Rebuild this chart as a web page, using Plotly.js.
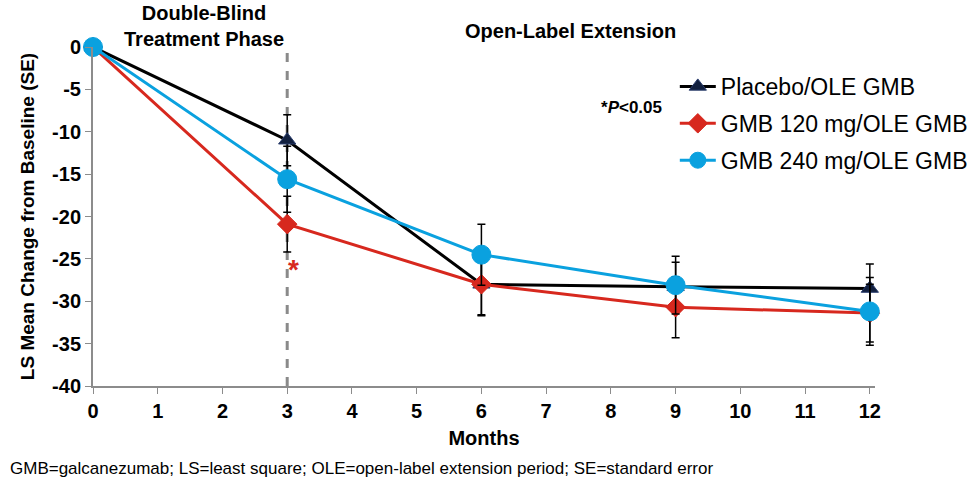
<!DOCTYPE html>
<html>
<head>
<meta charset="utf-8">
<script src="https://cdn.plot.ly/plotly-3.0.1.min.js"></script>
<style>html,body{margin:0;padding:0;background:#fff;}#chart{width:969px;height:480px;}</style>
</head>
<body>
<div id="chart"></div>
<script>
const months = [0, 3, 6, 9, 12];
const seriesNames = ["Placebo/OLE GMB", "GMB 120 mg/OLE GMB", "GMB 240 mg/OLE GMB"];
const placebo = [0, -11.0, -28.0, -28.3, -28.5];
const placeboSE = [0, 3.0, 3.6, 2.9, 2.9];
const gmb120 = [0, -20.9, -28.0, -30.7, -31.4];
const gmb120SE = [0, 3.3, 3.7, 3.6, 3.4];
const gmb240 = [0, -15.6, -24.5, -28.1, -31.2];
const gmb240SE = [0, 3.9, 3.6, 3.4, 4.0];
const xTicks = [0,1,2,3,4,5,6,7,8,9,10,11,12];
const yTicks = [0,-5,-10,-15,-20,-25,-30,-35,-40];

function trace(name, y, se, color, symbol, mline, size, group) {
  return {
    type: 'scatter', mode: 'lines+markers', name: name, x: months, y: y,
    legendgroup: group,
    line: {color: color, width: 3},
    marker: {color: symbol === 'triangle-up' ? '#12203f' : color, symbol: symbol, size: size,
             line: {color: mline, width: 1}},
    error_y: {type: 'data', array: se, visible: true, color: '#000', thickness: 1.5, width: 4},
    cliponaxis: false
  };
}
const data = [
  trace(seriesNames[0], placebo, placeboSE, '#000000', 'triangle-up', '#2a3d6e', 15, 'a'),
  trace(seriesNames[1], gmb120, gmb120SE, '#d7281e', 'diamond', '#d7281e', 15, 'b'),
  trace(seriesNames[2], gmb240, gmb240SE, '#0aa1df', 'circle', '#0aa1df', 19, 'c')
];
const bold = 'Liberation Sans, Arial, sans-serif';
const layout = {
  width: 969, height: 480,
  margin: {l: 93, r: 94, t: 47, b: 94, autoexpand: false},
  paper_bgcolor: '#fff', plot_bgcolor: '#fff',
  showlegend: true,
  legend: {x: 0.744, y: 0.947, xanchor: 'left', yanchor: 'top', font: {family: bold, size: 23, color: '#000'},
           traceorder: 'grouped', tracegroupgap: 4, itemwidth: 36, bgcolor: 'rgba(0,0,0,0)'},
  xaxis: {
    range: [0, 12.08], tickvals: xTicks, ticktext: xTicks.map(String), showgrid: false, zeroline: false,
    showline: true, linecolor: '#8c8c8c', linewidth: 2, ticks: 'outside', ticklen: 6, tickcolor: '#8c8c8c', tickwidth: 1,
    tickfont: {family: bold, size: 20, color: '#000', weight: 'bold'},
    title: {text: '<b>Months</b>', font: {family: bold, size: 20, color: '#000'}, standoff: 10}
  },
  yaxis: {
    range: [-40, 0], tickvals: yTicks, ticktext: yTicks.map(String), showgrid: false, zeroline: false,
    showline: true, linecolor: '#8c8c8c', linewidth: 2, ticks: 'outside', ticklen: 6, tickcolor: '#8c8c8c', tickwidth: 1,
    tickfont: {family: bold, size: 20, color: '#000', weight: 'bold'},
    title: {text: '<b>LS Mean Change from Baseline (SE)</b>', font: {family: bold, size: 19, color: '#000'}, standoff: 12}
  },
  shapes: [{type: 'line', xref: 'x', yref: 'paper', x0: 3, x1: 3, y0: 0, y1: 1,
            line: {color: '#8a8a8a', width: 3, dash: 'dash'}, layer: 'below'}],
  annotations: [
    {xref: 'paper', yref: 'paper', x: 0.142, y: 1.0, xanchor: 'center', yanchor: 'bottom', yshift: -5, showarrow: false,
     text: '<b>Double-Blind<br>Treatment Phase</b>', font: {family: bold, size: 20, color: '#000'}, align: 'center'},
    {xref: 'paper', yref: 'paper', x: 0.611, y: 1.0, xanchor: 'center', yanchor: 'bottom', yshift: 3, showarrow: false,
     text: '<b>Open-Label Extension</b>', font: {family: bold, size: 20, color: '#000'}},
    {xref: 'paper', yref: 'paper', x: 0.689, y: 0.823, xanchor: 'center', yanchor: 'middle', showarrow: false,
     text: '<b>*<i>P</i><0.05</b>', font: {family: bold, size: 17, color: '#000'}},
    {xref: 'x', yref: 'y', x: 3, y: -26.3, xshift: 6, showarrow: false,
     text: '<b>*</b>', font: {family: bold, size: 28, color: '#d7281e'}},
    {xref: 'paper', yref: 'paper', x: -0.109, y: -0.21, xanchor: 'left', yanchor: 'top', showarrow: false,
     text: 'GMB=galcanezumab; LS=least square; OLE=open-label extension period; SE=standard error',
     font: {family: bold, size: 17, color: '#000'}}
  ]
};
Plotly.newPlot('chart', data, layout, {displayModeBar: false});
</script>
</body>
</html>
